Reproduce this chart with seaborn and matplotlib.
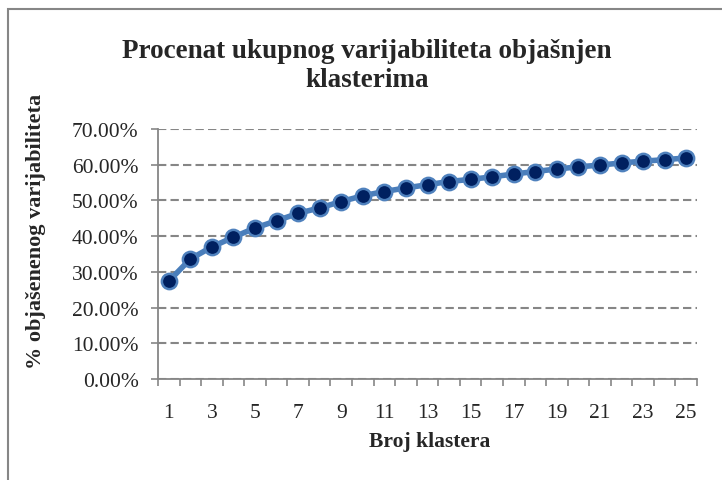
import numpy as np
import pandas as pd
import matplotlib
matplotlib.use("Agg")
import matplotlib.pyplot as plt
import seaborn as sns
from matplotlib.ticker import PercentFormatter, FixedLocator
from matplotlib.patches import Rectangle

# Values
broj_klastera = list(range(1, 26))
objasnjeno = [0.274, 0.336, 0.370, 0.397, 0.423, 0.443, 0.464, 0.479, 0.497,
              0.513, 0.525, 0.535, 0.544, 0.553, 0.559, 0.566, 0.574, 0.581,
              0.588, 0.594, 0.599, 0.605, 0.610, 0.614, 0.619]
x_labels = [str(k) for k in range(1, 26, 2)]

df = pd.DataFrame({"Broj klastera": broj_klastera, "Objasnjeno": objasnjeno})

sns.set_style("white")
plt.rcParams['font.family'] = ['Liberation Serif', 'DejaVu Serif']

axis_gray = "#868686"

fig = plt.figure(figsize=(7.22, 4.81), dpi=100)
ax = fig.add_axes([158 / 722, 1 - 380 / 481, (697 - 158) / 722, (380 - 130) / 481])

sns.lineplot(data=df, x="Broj klastera", y="Objasnjeno", ax=ax,
             color="#4A7EBB", linewidth=4, marker="o", markersize=11,
             markerfacecolor="#002060", markeredgecolor="#4F81BD",
             markeredgewidth=1.8, zorder=3)

ax.set_xlim(0.5, 25.5)
ax.set_ylim(0, 0.7)
ax.set_yticks(np.arange(0, 0.71, 0.1))
ax.yaxis.set_major_formatter(PercentFormatter(xmax=1, decimals=2))
ax.set_xticks(range(1, 26, 2))
ax.set_xticklabels(x_labels)
ax.xaxis.set_minor_locator(FixedLocator(np.arange(0.5, 25.6, 1)))

ax.tick_params(axis="x", which="major", length=0, pad=17, labelsize=15.5)
ax.tick_params(axis="x", which="minor", length=5, width=1.2, color=axis_gray,
               direction="out", bottom=True)
ax.tick_params(axis="y", length=5, width=1.2, color=axis_gray, direction="out",
               left=True, pad=9, labelsize=15.5)

ax.yaxis.grid(True, color=axis_gray, linestyle=(0, (4, 2)), linewidth=1.5, zorder=0)
ax.xaxis.grid(False)
ax.set_axisbelow(True)

for s in ["top", "right"]:
    ax.spines[s].set_visible(False)
for s in ["left", "bottom"]:
    ax.spines[s].set_color(axis_gray)
    ax.spines[s].set_linewidth(1.3)

ax.set_xlabel("Broj klastera", fontsize=15.5, fontweight="bold")
ax.xaxis.set_label_coords((430 - 158) / (697 - 158), -(442 - 380) / 250)
ax.set_ylabel("% objašenenog varijabiliteta", fontsize=16, fontweight="bold")
ax.yaxis.set_label_coords(-(158 - 36) / (697 - 158), (380 - 231) / 250)
ax.yaxis.label.set_va("center")
ax.xaxis.label.set_va("center")

fig.text(367 / 722, 1 - 66 / 481, "Procenat ukupnog varijabiliteta objašnjen\nklasterima",
         ha="center", va="center", fontsize=19.5, fontweight="bold", linespacing=1.25)

# outer chart border (only top and left edges visible)
fig.patches.append(Rectangle((8 / 722, -0.1), 1.2, 1.1 - 9.5 / 481,
                             transform=fig.transFigure, fill=False,
                             edgecolor=axis_gray, linewidth=1.5))

fig.savefig("out.png", dpi=100)
